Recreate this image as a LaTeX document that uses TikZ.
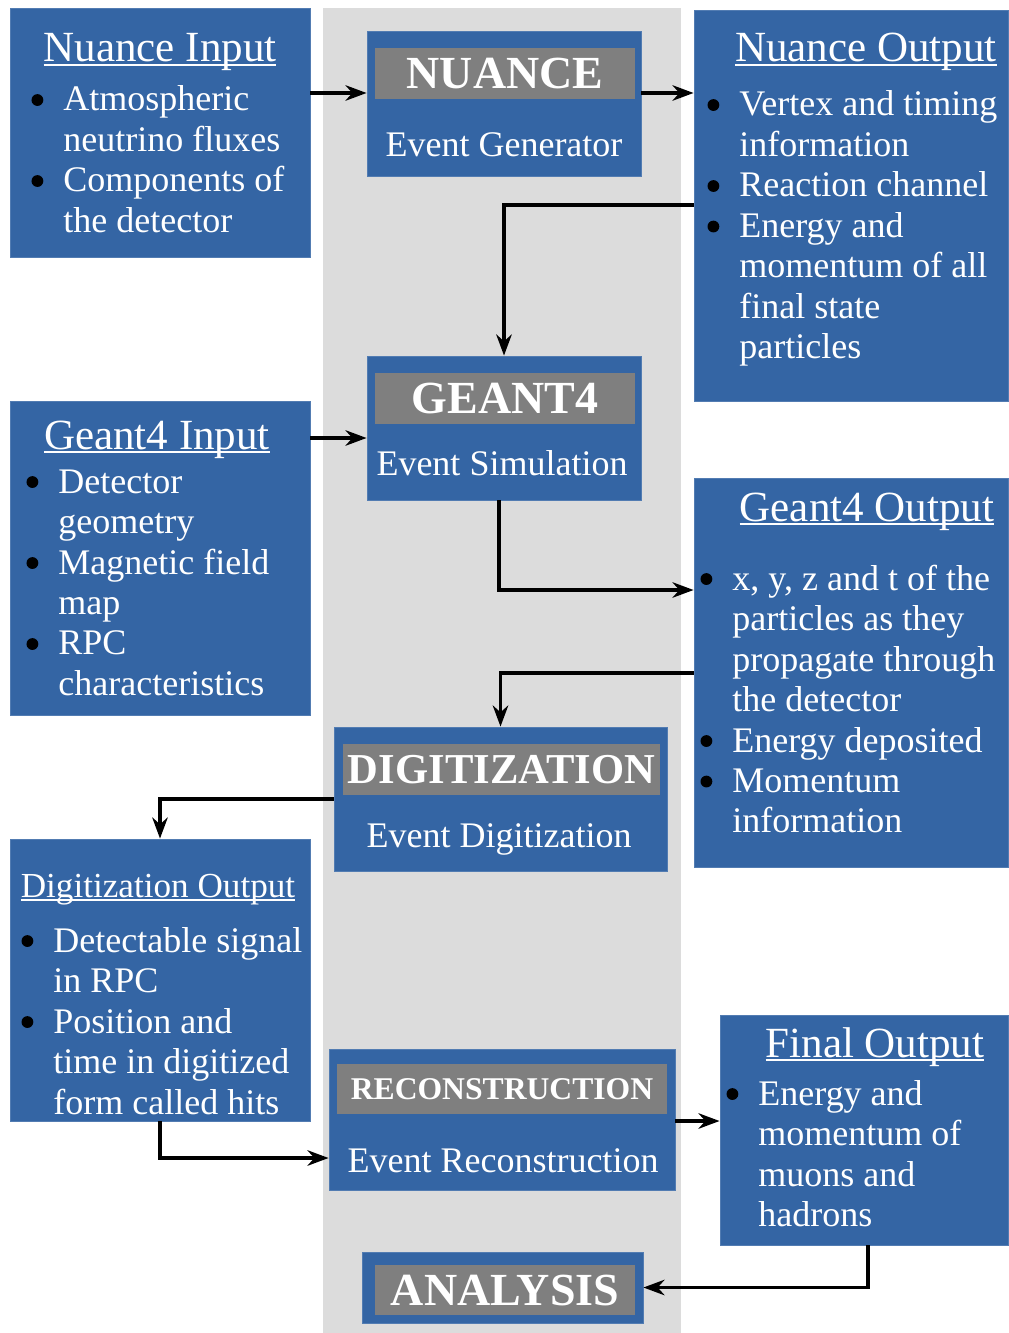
\documentclass[tikz,border=0pt]{standalone}
\usepackage{fontspec}
\setmainfont{Liberation Serif}
\usetikzlibrary{arrows.meta,positioning,fit}
\definecolor{BoxBlue}{HTML}{3465A4}
\definecolor{BarGray}{HTML}{7F7F7F}
\definecolor{PanelGray}{HTML}{DCDCDC}
\newcommand{\titul}[1]{\setbox0\hbox{#1}\rlap{\rule[-2.6pt]{\wd0}{1.3pt}}\box0}
\newcommand{\bul}{\makebox[25.7pt][l]{\hspace{3pt}\tikz[baseline=-7.8pt,x=1pt,y=1pt]\fill[black] (0,0) circle[radius=4.2pt];}}
\newenvironment{blist}{\begin{tabular}[t]{@{}l@{}l@{}}}{\end{tabular}}
\tikzset{
  blk/.style = {fill=BoxBlue, draw=BoxBlue!85!white, line width=0.6pt, inner sep=0pt},
  hdr/.style = {fill=BarGray, inner sep=0pt},
  hdrtxt/.style = {text=white, inner sep=0pt,
                font=\bfseries\fontsize{32.7}{36}\selectfont},
  ttl/.style = {text=white, inner sep=0pt, anchor=base,
                font=\fontsize{30.6}{34}\selectfont},
  lst/.style = {text=white, inner sep=0pt, anchor=base west,
                font=\fontsize{25.6}{28.8}\selectfont},
  sub/.style = {text=white, inner sep=0pt, anchor=base,
                font=\fontsize{25.6}{28.8}\selectfont},
  arr/.style = {-{Stealth[length=15pt,width=11pt]}, line width=2.6pt},
}

\begin{document}
\begin{tikzpicture}[x=0.025cm, y=-0.025cm]
  \useasboundingbox (0,0) rectangle (1008,1333);
  % central column
  \fill[PanelGray] (323,8) rectangle (681,1333);

  % inputs / outputs
  \node[blk, fit={(10,8) (310,257)}] (nuin) {};
  \node[ttl] (nuinT) at (160,62) {\titul{Nuance Input}};
  \node[lst] (nuinL) at (27,111) {\begin{blist}
    \bul & Atmospheric\\ & neutrino fluxes\\
    \bul & Components of\\ & the detector\end{blist}};

  \node[blk, fit={(694,10) (1008,401)}] (nuout) {};
  \node[ttl] (nuoutT) at (866,62) {\titul{Nuance Output}};
  \node[lst] (nuoutL) at (703,116) {\begin{blist}
    \bul & Vertex and timing\\ & information\\
    \bul & Reaction channel\\
    \bul & Energy and\\ & momentum of all\\ & final state\\ & particles\end{blist}};

  \node[blk, fit={(10,401) (310,715)}] (g4in) {};
  \node[ttl] (g4inT) at (157,449) {\titul{Geant4 Input}};
  \node[lst] (g4inL) at (22,493) {\begin{blist}
    \bul & Detector\\ & geometry\\
    \bul & Magnetic field\\ & map\\
    \bul & RPC\\ & characteristics\end{blist}};

  \node[blk, fit={(694,478) (1008,867)}] (g4out) {};
  \node[ttl] (g4outT) at (867,521) {\titul{Geant4 Output}};
  \node[lst] (g4outL) at (696,590) {\begin{blist}
    \bul & x, y, z and t of the\\ & particles as they\\
      & propagate through\\ & the detector\\
    \bul & Energy deposited\\
    \bul & Momentum\\ & information\end{blist}};

  \node[blk, fit={(10,839) (310,1121)}] (digout) {};
  \node[ttl, font=\fontsize{25}{28}\selectfont] (digoutT) at (158,897) {\titul{Digitization Output}};
  \node[lst] (digoutL) at (17,952) {\begin{blist}
    \bul & Detectable signal\\ & in RPC\\
    \bul & Position and\\ & time in digitized\\ & form called hits\end{blist}};

  \node[blk, fit={(720,1015) (1008,1245)}] (final) {};
  \node[ttl] (finalT) at (875,1057) {\titul{Final Output}};
  \node[lst] (finalL) at (722,1105) {\begin{blist}
    \bul & Energy and\\ & momentum of\\ & muons and\\ & hadrons\end{blist}};

  % stages
  \node[blk, fit={(367,31) (641,176)}] (nuance) {};
  \node[hdr, fit={(375,48) (635,99)}] (nuanceH) {};
  \node[hdrtxt] (nuanceT) at (nuanceH) {NUANCE};
  \node[sub] (nuanceS) at (504,157) {Event Generator};

  \node[blk, fit={(367,356) (641,500)}] (geant) {};
  \node[hdr, fit={(375,373) (635,424)}] (geantH) {};
  \node[hdrtxt] (geantT) at (geantH) {GEANT4};
  \node[sub] (geantS) at (502,475) {Event Simulation};

  \node[blk, fit={(334,727) (667,871)}] (digi) {};
  \node[hdr, fit={(343,744) (660,795)}] (digiH) {};
  \node[hdrtxt, font=\bfseries\fontsize{30.3}{33}\selectfont] (digiT) at (digiH) {DIGITIZATION};
  \node[sub] (digiS) at (499,847) {Event Digitization};

  \node[blk, fit={(329,1049) (675,1190)}] (reco) {};
  \node[hdr, fit={(337,1064) (667,1114)}] (recoH) {};
  \node[hdrtxt, font=\bfseries\fontsize{22.5}{26}\selectfont] (recoT) at (recoH) {RECONSTRUCTION};
  \node[sub] (recoS) at (503,1172) {Event Reconstruction};

  \node[blk, fit={(362,1252) (643,1323)}] (ana) {};
  \node[hdr, fit={(375,1265) (635,1315)}] (anaH) {};
  \node[hdrtxt] (anaT) at (anaH) {ANALYSIS};

  % connectors
  \draw[arr] (nuin.east |- 0,93) -- (nuance.west |- 0,93);
  \draw[arr] (nuance.east |- 0,93) -- (nuout.west |- 0,93);
  \draw[arr] (nuout.west |- 0,205) -| (geant.north);
  \draw[arr] (g4in.east |- 0,438) -- (geant.west |- 0,438);
  \draw[arr] (geant.south -| 499,0) |- (g4out.west |- 0,590);
  \draw[arr] (g4out.west |- 0,673) -| (digi.north);
  \draw[arr] (digi.west |- 0,799) -| (digout.north);
  \draw[arr] (digout.south) |- (reco.west |- 0,1158);
  \draw[arr] (reco.east |- 0,1121) -- (final.west |- 0,1121);
  \draw[arr] (final.south -| 868,0) |- (ana.east);
\end{tikzpicture}
\end{document}
